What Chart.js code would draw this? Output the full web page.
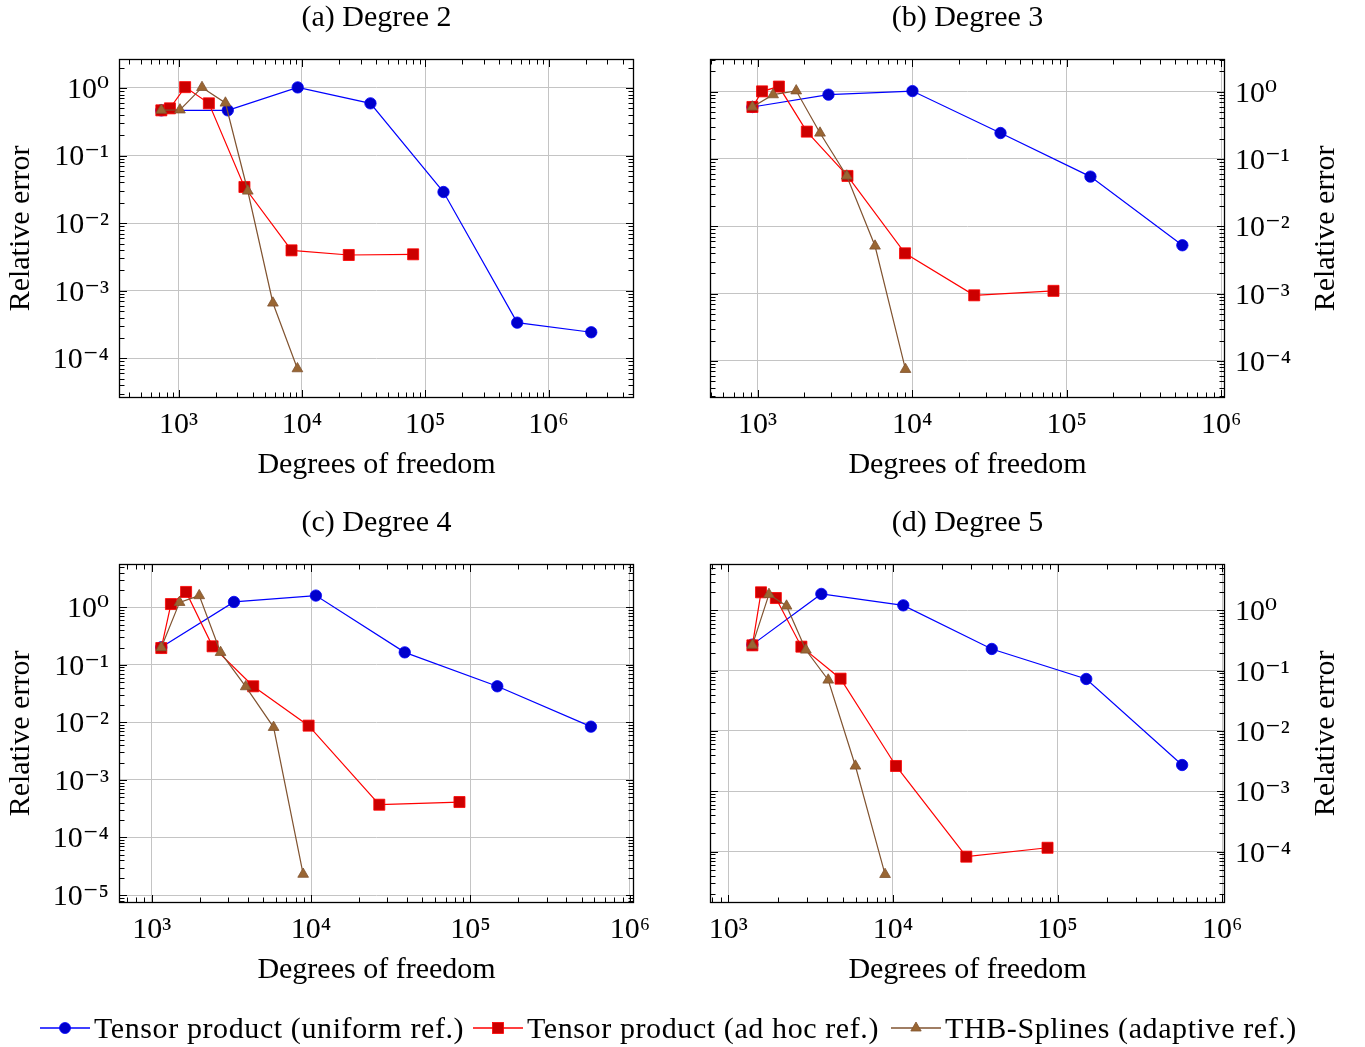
<!DOCTYPE html>
<html>
<head>
<meta charset="utf-8">
<script src="https://cdn.jsdelivr.net/npm/chart.js@4/dist/chart.umd.min.js"></script>
<style>
  html, body { margin: 0; padding: 0; background: #fff; }
  body { width: 1365px; height: 1047px; position: relative; overflow: hidden;
         font-family: 'Liberation Serif', 'DejaVu Serif', serif; color: #000; }
  canvas.pc { position: absolute; }
  .lg { position: absolute; top: 1008px; height: 40px; display: flex; align-items: center;
        font-size: 30px; white-space: nowrap; }
  .lg span { letter-spacing: 0.6px; }
  .lg svg { display: block; margin-right: 4px; }
</style>
</head>
<body>
<canvas id="pa" class="pc" width="682" height="505" style="left:0;top:0;width:682px;height:505px"></canvas>
<canvas id="pb" class="pc" width="683" height="505" style="left:682px;top:0;width:683px;height:505px"></canvas>
<canvas id="pc" class="pc" width="682" height="505" style="left:0;top:505px;width:682px;height:505px"></canvas>
<canvas id="pd" class="pc" width="683" height="505" style="left:682px;top:505px;width:683px;height:505px"></canvas>

<div class="lg" style="left:40px">
  <svg width="50" height="20"><line x1="0" y1="10" x2="50" y2="10" stroke="#0000ff" stroke-width="1.3"/><circle cx="25" cy="10" r="5.5" fill="#0000cc" stroke="#0000ff" stroke-width="0.8"/></svg>
  <span>Tensor product (uniform ref.)</span>
</div>
<div class="lg" style="left:473px">
  <svg width="50" height="20"><line x1="0" y1="10" x2="50" y2="10" stroke="#ff0000" stroke-width="1.3"/><rect x="19.5" y="4.5" width="11" height="11" fill="#cc0000" stroke="#ff0000" stroke-width="0.8"/></svg>
  <span>Tensor product (ad hoc ref.)</span>
</div>
<div class="lg" style="left:891px">
  <svg width="50" height="20"><line x1="0" y1="10" x2="50" y2="10" stroke="#805330" stroke-width="1.3"/><polygon points="25,4 30.2,13 19.8,13" fill="#996633" stroke="#805330" stroke-width="0.8"/></svg>
  <span>THB-Splines (adaptive ref.)</span>
</div>

<script>
// ---------------- data ----------------
// (a) Degree 2
const dofUniform2 = [725, 2508, 9250, 35970, 140700, 557000, 2220000];
const errUniform2 = [0.467, 0.467, 1.02, 0.593, 0.0289, 3.37e-4, 2.43e-4];
const dofAdHoc2   = [725, 851, 1130, 1761, 3420, 8240, 23990, 79800];
const errAdHoc2   = [0.467, 0.50, 1.03, 0.593, 0.0343, 0.00396, 0.00338, 0.00346];
const dofThb2     = [725, 1026, 1549, 2399, 3641, 5822, 9200];
const errThb2     = [0.47, 0.475, 1.02, 0.60, 0.0299, 6.59e-4, 7.03e-5];
// (b) Degree 3
const dofUniform3 = [926, 2875, 10050, 37330, 142600, 561000];
const errUniform3 = [0.592, 0.902, 1.02, 0.243, 0.0547, 0.00523];
const dofAdHoc3   = [926, 1069, 1374, 2083, 3816, 9000, 25230, 82200];
const errAdHoc3   = [0.592, 1.01, 1.19, 0.255, 0.056, 0.00397, 9.44e-4, 0.0011];
const dofThb3     = [926, 1260, 1778, 2535, 3777, 5755, 9060];
const errThb3     = [0.592, 0.902, 1.03, 0.243, 0.056, 0.0051, 7.5e-5];
// (c) Degree 4
const dofUniform4 = [1149, 3282, 10720, 38700, 147300, 570000];
const errUniform4 = [0.202, 1.24, 1.60, 0.165, 0.0424, 0.00843];
const dofAdHoc4   = [1149, 1321, 1644, 2410, 4335, 9650, 26790, 85300];
const errAdHoc4   = [0.196, 1.14, 1.85, 0.210, 0.0424, 0.00878, 3.71e-4, 4.13e-4];
const dofThb4     = [1149, 1496, 1988, 2705, 3890, 5820, 8920];
const errThb4     = [0.20, 1.22, 1.60, 0.165, 0.0418, 0.0082, 2.3e-5];
// (d) Degree 5
const dofUniform5 = [1401, 3675, 11560, 39850, 149400, 571000];
const errUniform5 = [0.27, 1.87, 1.21, 0.229, 0.0728, 0.00273];
const dofAdHoc5   = [1401, 1581, 1945, 2780, 4808, 10440, 27910, 86900];
const errAdHoc5   = [0.263, 1.99, 1.60, 0.25, 0.0737, 0.00263, 8.26e-5, 1.16e-4];
const dofThb5     = [1401, 1766, 2259, 2960, 4047, 5918, 8960];
const errThb5     = [0.265, 1.84, 1.18, 0.22, 0.070, 0.00263, 4.2e-5];

const panelTitles = ['(a) Degree 2', '(b) Degree 3', '(c) Degree 4', '(d) Degree 5'];
const seriesNames = ['Tensor product (uniform ref.)', 'Tensor product (ad hoc ref.)', 'THB-Splines (adaptive ref.)'];
const xTitle = 'Degrees of freedom';
const yTitle = 'Relative error';

// ---------------- helpers ----------------
const FONT = "'Liberation Serif', 'DejaVu Serif', serif";
const FS = 30;
Chart.defaults.font.family = FONT;
Chart.defaults.font.size = FS;
Chart.defaults.color = '#000';

const SUP = {'0':'⁰','1':'¹','2':'²','3':'³','4':'⁴','5':'⁵','6':'⁶','7':'⁷','8':'⁸','9':'⁹','-':'⁻'};
function powLabel(v) {
  const e = Math.round(Math.log10(v));
  return '10' + String(e).split('').map(c => SUP[c]).join('');
}
function logTicks(min, max) {
  const out = [];
  for (let e = Math.floor(Math.log10(min)); e <= Math.ceil(Math.log10(max)); e++) {
    for (let m = 1; m < 10; m++) {
      const v = m * Math.pow(10, e);
      if (v >= min * 0.9999 && v <= max * 1.0001) out.push({ value: v, major: m === 1 });
    }
  }
  return out;
}
const pts = (xs, ys) => xs.map((x, i) => ({ x, y: ys[i] }));

const STYLES = [
  { borderColor: '#0000ff', pointStyle: 'circle', pointRadius: 5.7, pointBackgroundColor: '#0000cc', pointBorderColor: '#0000ff', order: 3 },
  { borderColor: '#ff0000', pointStyle: 'rect', pointRadius: 7.8, pointBackgroundColor: '#cc0000', pointBorderColor: '#ff0000', order: 2 },
  { borderColor: '#805330', pointStyle: 'triangle', pointRadius: 6.2, pointBackgroundColor: '#996633', pointBorderColor: '#805330', order: 1 }
];

// frame + inward tick marks + right-side axis title
const frameTicks = {
  id: 'frameTicks',
  afterDraw(chart, args, opts) {
    const { ctx, chartArea: a } = chart;
    const xs = chart.scales.x, ys = chart.scales.y;
    ctx.save();
    ctx.strokeStyle = '#000';
    ctx.lineWidth = 1;
    ctx.beginPath();
    xs.ticks.forEach(t => {
      const p = Math.round(xs.getPixelForValue(t.value)) + 0.5;
      const L = t.major ? 8 : 5.5;
      ctx.moveTo(p, a.bottom); ctx.lineTo(p, a.bottom - L);
      ctx.moveTo(p, a.top); ctx.lineTo(p, a.top + L);
    });
    ys.ticks.forEach(t => {
      const p = Math.round(ys.getPixelForValue(t.value)) + 0.5;
      const L = t.major ? 8 : 5.5;
      ctx.moveTo(a.left, p); ctx.lineTo(a.left + L, p);
      ctx.moveTo(a.right, p); ctx.lineTo(a.right - L, p);
    });
    ctx.stroke();
    ctx.lineWidth = 1.3;
    ctx.strokeRect(Math.round(a.left) + 0.5, Math.round(a.top) + 0.5, Math.round(a.width) - 1, Math.round(a.height) - 1);
    if (opts.rightTitle) {
      ctx.translate(a.right + opts.rightOffset, (a.top + a.bottom) / 2);
      ctx.rotate(-Math.PI / 2);
      ctx.font = FS + 'px ' + FONT;
      ctx.fillStyle = '#000';
      ctx.textAlign = 'center';
      ctx.textBaseline = 'middle';
      ctx.fillText(opts.rightTitle, 0, 0);
    }
    ctx.restore();
  }
};

const gridColor = c => (c.tick && c.tick.major) ? '#c4c4c4' : 'rgba(0,0,0,0)';
function zeroPad(s) { s.paddingLeft = 0; s.paddingRight = 0; s.paddingTop = 0; s.paddingBottom = 0; }

function makePanel(id, p) {
  const datasets = p.series.map((s, i) => Object.assign({
    label: seriesNames[i],
    data: pts(s[0], s[1]),
    borderWidth: 1.2,
    pointBorderWidth: 0.8,
    tension: 0,
    fill: false
  }, STYLES[i]));
  const right = p.yPos === 'right';
  new Chart(document.getElementById(id), {
    type: 'line',
    data: { datasets },
    plugins: [frameTicks],
    options: {
      responsive: false,
      animation: false,
      events: [],
      layout: { padding: { left: p.padL, right: p.padR, top: 0, bottom: 0 } },
      plugins: {
        legend: { display: false },
        tooltip: { enabled: false },
        title: { display: true, text: p.title, fullSize: false, color: '#000',
                 font: { size: FS, weight: 'normal' }, padding: { top: 0, bottom: 23 } },
        frameTicks: { rightTitle: right ? yTitle : null, rightOffset: 101 }
      },
      scales: {
        x: {
          type: 'logarithmic', position: 'bottom', min: p.xMin, max: p.xMax,
          afterBuildTicks: s => { s.ticks = logTicks(s.min, s.max); },
          afterFit: s => { s.height = 107; zeroPad(s); },
          grid: { color: gridColor, lineWidth: 1, drawTicks: false },
          border: { display: false },
          ticks: { autoSkip: false, maxRotation: 0, minRotation: 0, padding: 9, color: '#000',
                   font: { size: FS }, callback: (v, i, t) => t[i].major ? powLabel(v) : '' },
          title: { display: true, text: xTitle, color: '#000', font: { size: FS },
                   padding: { top: 0, bottom: 22 } }
        },
        y: {
          type: 'logarithmic', position: p.yPos, min: p.yMin, max: p.yMax,
          afterBuildTicks: s => { s.ticks = logTicks(s.min, s.max); },
          afterFit: s => { s.width = p.yW; zeroPad(s); },
          grid: { color: gridColor, lineWidth: 1, drawTicks: false },
          border: { display: false },
          ticks: { autoSkip: false, padding: 10, labelOffset: 2, color: '#000', font: { size: FS },
                   callback: (v, i, t) => t[i].major ? powLabel(v) : '' },
          title: { display: !right, text: yTitle, color: '#000', font: { size: FS },
                   padding: { top: 3, bottom: 0 } }
        }
      }
    }
  });
}

makePanel('pa', { title: panelTitles[0], yPos: 'left', padL: 0, padR: 48, yW: 119,
  xMin: Math.pow(10, 2.517), xMax: Math.pow(10, 6.693), yMin: Math.pow(10, -4.587), yMax: Math.pow(10, 0.429),
  series: [[dofUniform2, errUniform2], [dofAdHoc2, errAdHoc2], [dofThb2, errThb2]] });
makePanel('pb', { title: panelTitles[1], yPos: 'right', padL: 28, padR: 0, yW: 140,
  xMin: Math.pow(10, 2.692), xMax: Math.pow(10, 6.025), yMin: Math.pow(10, -4.55), yMax: Math.pow(10, 0.485),
  series: [[dofUniform3, errUniform3], [dofAdHoc3, errAdHoc3], [dofThb3, errThb3]] });
makePanel('pc', { title: panelTitles[2], yPos: 'left', padL: 0, padR: 48, yW: 119,
  xMin: Math.pow(10, 2.795), xMax: Math.pow(10, 6.026), yMin: Math.pow(10, -5.139), yMax: Math.pow(10, 0.753),
  series: [[dofUniform4, errUniform4], [dofAdHoc4, errAdHoc4], [dofThb4, errThb4]] });
makePanel('pd', { title: panelTitles[3], yPos: 'right', padL: 28, padR: 0, yW: 140,
  xMin: Math.pow(10, 2.889), xMax: Math.pow(10, 6.017), yMin: Math.pow(10, -4.851), yMax: Math.pow(10, 0.768),
  series: [[dofUniform5, errUniform5], [dofAdHoc5, errAdHoc5], [dofThb5, errThb5]] });
</script>
</body>
</html>
